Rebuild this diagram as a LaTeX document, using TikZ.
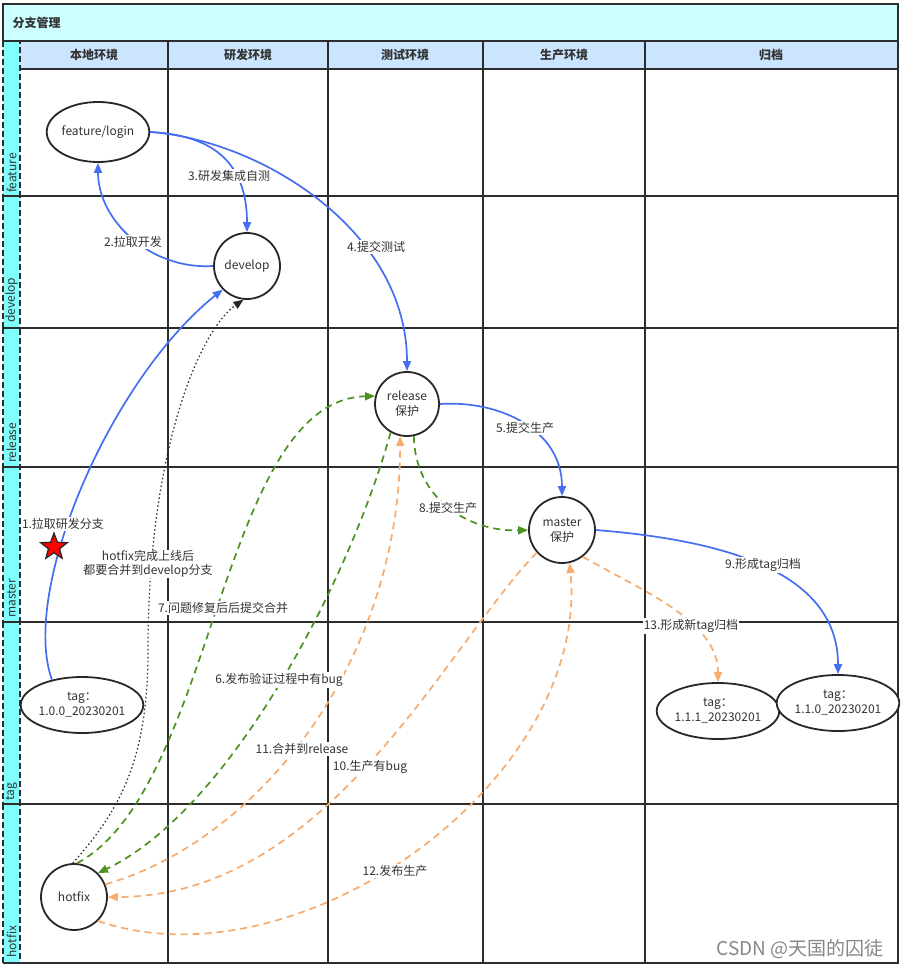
\documentclass[tikz,border=0pt]{standalone}
\usepackage{fontspec}
\setmainfont{Noto Sans CJK SC}
\usetikzlibrary{arrows.meta,shapes.geometric}
\definecolor{txt}{RGB}{51,51,51}
\definecolor{ndc}{RGB}{40,40,40}
\definecolor{gridc}{RGB}{45,45,45}
\definecolor{eblue}{RGB}{70,110,240}
\definecolor{egreen}{RGB}{77,146,33}
\definecolor{eorange}{RGB}{245,172,110}
\definecolor{titlebg}{RGB}{204,255,255}
\definecolor{hdrbg}{RGB}{204,229,255}
\definecolor{stripbg}{RGB}{128,255,255}
\definecolor{wm}{RGB}{135,135,135}
\begin{document}
\begin{tikzpicture}[x=1pt,y=-1pt,
  every node/.style={text=txt, font=\fontsize{12}{15}\selectfont},
  nd/.style={draw=ndc, line width=1.8pt, fill=white, align=center, inner sep=0pt},
  ell/.style={nd, ellipse},
  circ/.style={nd, circle, minimum size=66pt},
  lbl/.style={fill=white, inner sep=1pt},
  hdr/.style={font=\fontsize{12}{15}\selectfont\bfseries},
  lane/.style={rotate=90, anchor=west, inner sep=1pt},
  gridline/.style={draw=gridc, line width=1.8pt},
  tipb/.style={-{Triangle[length=10pt,width=8pt]}},
  eb/.style={draw=eblue, line width=1.7pt, tipb, fill=none},
  eg/.style={draw=egreen, line width=1.7pt, dash pattern=on 7pt off 5pt, tipb},
  eo/.style={draw=eorange, line width=1.7pt, dash pattern=on 7pt off 5pt, tipb},
  edot/.style={draw=ndc, line width=1.2pt, dash pattern=on 1.5pt off 2.5pt, tipb}]
\useasboundingbox (0,0) rectangle (901,966);
\fill[white] (0,0) rectangle (901,966);
% backgrounds
\fill[titlebg] (3,4) rectangle (898,41);
\fill[hdrbg] (20,41) rectangle (898,69);
\fill[stripbg] (3,41) rectangle (20,963);
% strip cells (dashed)
\foreach \a/\b in {41/196,196/328,328/467,467/622,622/804,804/963}
  \draw[draw=gridc, line width=1.3pt, dash pattern=on 6pt off 3pt] (3,\a) rectangle (20,\b);
% grid
\draw[gridline] (3,41) -- (3,4) -- (898,4) -- (898,963) -- (3,963);
\draw[gridline] (3,41) -- (898,41);
\draw[gridline] (20,69) -- (898,69);
\foreach \yy in {196,328,467,622,804}
  \draw[gridline] (3,\yy) -- (898,\yy);
\foreach \xx in {168,328,483,645}
  \draw[gridline] (\xx,41) -- (\xx,963);
% title and headers
\node[hdr, anchor=west] (title) at (9,23) {分支管理};
\node[hdr] (h1) at (94,55) {本地环境};
\node[hdr] (h2) at (248,55) {研发环境};
\node[hdr] (h3) at (405,55) {测试环境};
\node[hdr] (h4) at (564,55) {生产环境};
\node[hdr] (h5) at (771,55) {归档};
% lane labels
\node[lane] (rf) at (11.5,194) {feature};
\node[lane] (rd) at (11.5,324) {develop};
\node[lane] (rr) at (11.5,464) {release};
\node[lane] (rm) at (11.5,619) {master};
\node[lane] (rt) at (11.5,802) {tag};
\node[lane] (rh) at (11.5,959) {hotfix};
% nodes
\node[ell, minimum width=100pt, minimum height=60pt] (flogin) at (98,132) {feature/login};
\node[circ] (dev) at (247,266) {develop};
\node[circ, minimum size=64pt] (rel) at (407,404) {release\\保护};
\node[circ] (master) at (562,530) {master\\保护};
\node[ell, minimum width=114pt, minimum height=56pt] (tag100) at (82,705) {tag：\\1.0.0\_20230201};
\node[ell, minimum width=114pt, minimum height=56pt] (tag111) at (718,711) {tag：\\1.1.1\_20230201};
\node[ell, minimum width=112pt, minimum height=56pt] (tag110) at (838,703) {tag：\\1.1.0\_20230201};
\node[circ] (hotfix) at (74,897) {hotfix};
% edges
\draw[eb] (tag100.140) .. controls (20,590) and (110,380) .. (dev.224);
\draw[eb] (dev.west) .. controls (150,270) and (98,220) .. (flogin.south);
\draw[eb] (flogin.east) .. controls (210,135) and (247,160) .. (dev.north);
\draw[eb] (flogin.east) .. controls (260,140) and (407,230) .. (rel.north);
\draw[eb] (rel.east) .. controls (500,400) and (562,430) .. (master.north);
\draw[eb] (master.east) .. controls (720,540) and (838,570) .. (tag110.north);
\draw[eg] (rel.282) .. controls (415,500) and (470,532) .. (master.west);
\draw[eg] (rel.240) .. controls (350,580) and (230,810) .. (hotfix.45);
\draw[eg] (hotfix.85) .. controls (215,790) and (220,400) .. (rel.166);
\draw[eo] (hotfix.22) .. controls (260,840) and (400,660) .. (rel.258);
\draw[eo] (master.222) .. controls (450,640) and (330,897) .. (hotfix.east);
\draw[eo] (hotfix.-45) .. controls (300,990) and (590,780) .. (master.283);
\draw[eo] (master.-52) .. controls (640,590) and (718,620) .. (tag111.north);
\draw[edot] (hotfix.92) .. controls (120,810) and (148,760) .. (148,650) .. controls (148,450) and (200,330) .. (dev.264);
% edge labels
\node[lbl] (l1) at (63,524) {1.拉取研发分支};
\node[lbl] (l2) at (133,242) {2.拉取开发};
\node[lbl] (l3) at (229,176) {3.研发集成自测};
\node[lbl] (l4) at (376,247) {4.提交测试};
\node[lbl] (l5) at (525,428) {5.提交生产};
\node[lbl] (l6) at (279,680) {6.发布验证过程中有bug};
\node[lbl] (l7) at (223,608) {7.问题修复后后提交合并};
\node[lbl] (l8) at (448,508) {8.提交生产};
\node[lbl] (l9) at (763,565) {9.形成tag归档};
\node[lbl] (l10) at (370,767) {10.生产有bug};
\node[lbl] (l11) at (302,749) {11.合并到release};
\node[lbl] (l12) at (395,871) {12.发布生产};
\node[lbl] (l13) at (691,626) {13.形成新tag归档};
\node[lbl, align=center, font=\fontsize{12}{14}\selectfont] (lhf) at (148,564) {hotfix完成上线后\\都要合并到develop分支};
% star
\node[star, star points=5, star point ratio=2.4, fill=red, draw=black!85, line width=1.2pt, minimum size=28pt, inner sep=0pt] (star) at (54,547) {};
% watermark
\node[text=wm, font=\fontsize{19}{20}\selectfont] (wmk) at (800,949) {CSDN @天国的囚徒};
\end{tikzpicture}
\end{document}
